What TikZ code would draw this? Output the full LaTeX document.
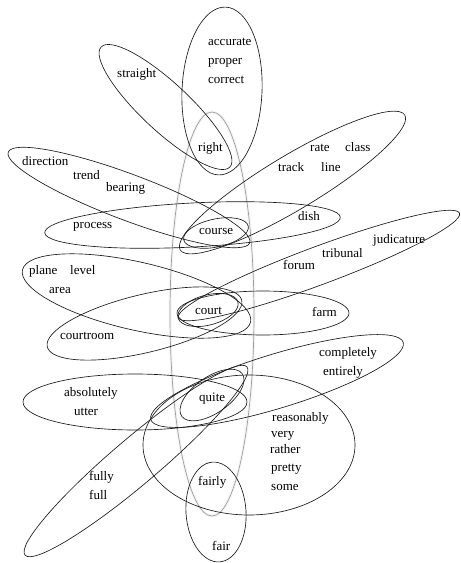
\documentclass[tikz,border=0pt]{standalone}
\usepackage{fontspec}
\setmainfont{Liberation Serif}
\begin{document}
\begin{tikzpicture}[x=1pt,y=-1pt,
  ring/.style={draw=black!90, line width=0.65pt},
  greyring/.style={draw=black!38, line width=0.7pt},
  glowring/.style={draw=black!4, line width=3pt},
  word/.style={font=\fontsize{13}{14}\selectfont, inner sep=0pt, anchor=west,
    text height=1.5ex, text depth=0.25ex}]
\useasboundingbox[fill=white] (0,0) rectangle (461,563);

% central grey ellipse
\draw[glowring] (212,314) ellipse [x radius=42pt, y radius=202pt];
\draw[greyring] (212,314) ellipse [x radius=42pt, y radius=202pt];

% black ellipses
\draw[ring, rotate around={-2.5:(222,91)}] (222,91) ellipse [x radius=40pt, y radius=84pt];
\draw[ring, rotate around={-43:(165.5,107)}] (165.5,107) ellipse [x radius=88pt, y radius=24pt];
\draw[ring, rotate around={-20.6:(129,197.5)}] (129,197.5) ellipse [x radius=129pt, y radius=23pt];
\draw[ring, rotate around={31:(292.5,182.5)}] (292.5,182.5) ellipse [x radius=131pt, y radius=27pt];
\draw[ring, rotate around={12:(216,233)}] (216,233) ellipse [x radius=33pt, y radius=14pt];
\draw[ring, rotate around={3:(192.5,225)}] (192.5,225) ellipse [x radius=148pt, y radius=22pt];
\draw[ring, rotate around={20.4:(319,265.5)}] (319,265.5) ellipse [x radius=150pt, y radius=19pt];
\draw[ring, rotate around={-12.9:(136.5,296)}] (136.5,296) ellipse [x radius=117pt, y radius=34pt];
\draw[ring, rotate around={13.5:(144.5,323.5)}] (144.5,323.5) ellipse [x radius=100pt, y radius=29pt];
\draw[ring] (263,313) ellipse [x radius=86pt, y radius=22pt];
\draw[ring, rotate around={15:(208,310)}] (208,310) ellipse [x radius=31pt, y radius=15pt];
\draw[ring] (135,402) ellipse [x radius=112pt, y radius=28pt];
\draw[ring, rotate around={17:(277,381)}] (277,381) ellipse [x radius=132pt, y radius=27pt];
\draw[ring, rotate around={35:(212,395)}] (212,395) ellipse [x radius=37pt, y radius=18pt];
\draw[ring, rotate around={40.3:(136,461)}] (136,461) ellipse [x radius=145.5pt, y radius=23pt];
\draw[ring] (249,445) ellipse [x radius=106pt, y radius=70pt];
\draw[ring, rotate around={4:(216,512)}] (216,512) ellipse [x radius=30pt, y radius=50pt];

% words
\node[word] (accurate) at (208,43) {accurate};
\node[word] (proper) at (208,62) {proper};
\node[word] (correct) at (208,81) {correct};
\node[word] (straight) at (117,75) {straight};
\node[word] (right) at (198,149) {right};
\node[word] (rate) at (310,149) {rate};
\node[word] (class) at (345,149) {class};
\node[word] (track) at (278,169) {track};
\node[word] (line) at (321,169) {line};
\node[word] (direction) at (22,163) {direction};
\node[word] (trend) at (73,177) {trend};
\node[word] (bearing) at (106,189) {bearing};
\node[word] (process) at (73,226) {process};
\node[word] (course) at (199,232) {course};
\node[word] (dish) at (298,218) {dish};
\node[word] (judicature) at (373,241) {judicature};
\node[word] (tribunal) at (322,255) {tribunal};
\node[word] (forum) at (283,267) {forum};
\node[word] (plane) at (29,272) {plane};
\node[word] (level) at (70,272) {level};
\node[word] (area) at (49,291) {area};
\node[word] (court) at (195,312) {court};
\node[word] (farm) at (312,314) {farm};
\node[word] (courtroom) at (60,337) {courtroom};
\node[word] (completely) at (319,354) {completely};
\node[word] (entirely) at (323,373) {entirely};
\node[word] (absolutely) at (64,394) {absolutely};
\node[word] (utter) at (74,413) {utter};
\node[word] (quite) at (199,399) {quite};
\node[word] (reasonably) at (272,419) {reasonably};
\node[word] (very) at (271,435) {very};
\node[word] (rather) at (270,451) {rather};
\node[word] (pretty) at (271,469) {pretty};
\node[word] (some) at (271,488) {some};
\node[word] (fully) at (89,478) {fully};
\node[word] (full) at (89,497) {full};
\node[word] (fairly) at (198,483) {fairly};
\node[word] (fair) at (212,548) {fair};
\end{tikzpicture}
\end{document}
